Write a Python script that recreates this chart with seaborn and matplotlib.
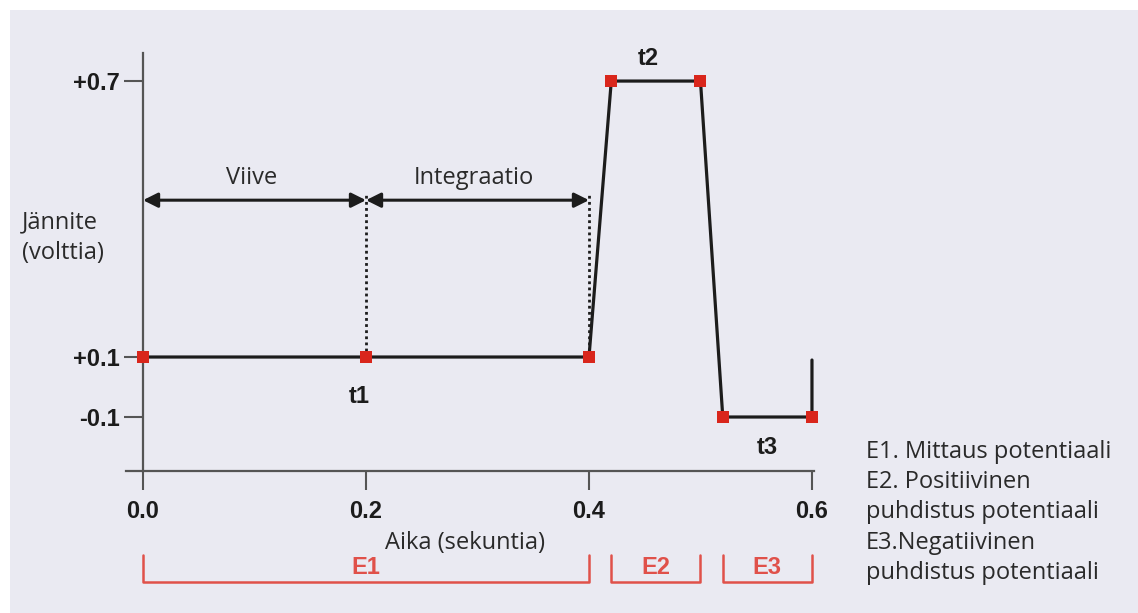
import numpy as np
import seaborn as sns
import matplotlib.pyplot as plt
from matplotlib.patches import Rectangle
from matplotlib.ticker import NullLocator

# Pulse waveform (time in s, potential in V)
time = [0.0, 0.2, 0.4, 0.42, 0.5, 0.52, 0.6]
voltage = [0.1, 0.1, 0.1, 0.7, 0.7, -0.1, -0.1]
tail_time = [0.6, 0.6]
tail_voltage = [-0.1, 0.09]

x_ticks = [0.0, 0.2, 0.4, 0.6]
x_tick_labels = ["0.0", "0.2", "0.4", "0.6"]
y_ticks = [-0.1, 0.1, 0.7]
y_tick_labels = ["-0.1", "+0.1", "+0.7"]

# potential regions under the x axis
region_names = ["E1", "E2", "E3"]
region_start = [0.0, 0.42, 0.52]
region_end = [0.4, 0.5, 0.6]

phase_names = ["Viive", "Integraatio"]
phase_start = [0.0, 0.2]
phase_end = [0.2, 0.4]

legend_lines = ["E1. Mittaus potentiaali", "E2. Positiivinen",
                "puhdistus potentiaali", "E3.Negatiivinen",
                "puhdistus potentiaali"]

sns.set_style("white")
plt.rcParams["font.family"] = ["Liberation Sans", "DejaVu Sans"]

W, H = 1138, 613
BG = "#EAEAF2"
INK = "#1c1c1c"
RED = "#d9261c"
LIGHT_RED = "#e0514a"
AXIS = "#555555"
TEXT_FONT = ["Open Sans", "DejaVu Sans"]
TEXT_COLOR = "#2a2a2a"
TEXT_SIZE = 17

# the original y axis is not to scale: below +0.1 it is compressed
k = 300 / 460


def forward(y):
    y = np.asarray(y, dtype=float)
    return np.where(y >= 0.1, y, 0.1 + (y - 0.1) * k)


def inverse(f):
    f = np.asarray(f, dtype=float)
    return np.where(f >= 0.1, f, 0.1 + (f - 0.1) / k)


fig = plt.figure(figsize=(W / 100, H / 100), dpi=100)
fig.patches.append(Rectangle((10 / W, 0), 1, 603 / H, transform=fig.transFigure,
                             facecolor=BG, edgecolor="none", zorder=-10))

ax = fig.add_axes([126.3 / W, (H - 471) / H, (814.2 - 126.3) / W, 418 / H])
ax.set_facecolor("none")
ax.set_yscale("function", functions=(forward, inverse))

sns.lineplot(x=time + tail_time[1:], y=voltage + tail_voltage[1:], sort=False,
             estimator=None, color=INK, linewidth=2.3, ax=ax, zorder=3)
sns.scatterplot(x=time, y=voltage, marker="s", s=80, color=RED, linewidth=0,
                ax=ax, zorder=5, clip_on=False)

ax.set_xlim(-0.015, 0.602)
ax.set_ylim(-0.28, 0.761)

# delay / integration arrows with dotted markers
arrow_y = 0.441
for start, end, name in zip(phase_start, phase_end, phase_names):
    ax.annotate("", xy=(start, arrow_y), xytext=(end, arrow_y),
                arrowprops=dict(arrowstyle="<|-|>", color=INK, lw=2.2,
                                mutation_scale=22, shrinkA=0, shrinkB=0))
    ax.text((start + end) / 2 - 0.003, 0.489, name, ha="center", va="center",
            fontsize=TEXT_SIZE, color=TEXT_COLOR, family=TEXT_FONT)
for x in phase_end:
    ax.plot([x, x], [0.1, 0.459], linestyle=(0, (1, 1.2)), color=INK, lw=2.0, zorder=2)

ax.text(0.194, -0.03, "t1", ha="center", va="center", fontsize=17,
        fontweight="bold", color=INK)
ax.text(0.453, 0.75, "t2", ha="center", va="center", fontsize=17,
        fontweight="bold", color=INK, clip_on=False)
ax.text(0.56, -0.2, "t3", ha="center", va="center", fontsize=17,
        fontweight="bold", color=INK)

# axes styling
for side in ["top", "right"]:
    ax.spines[side].set_visible(False)
ax.spines["left"].set_position(("data", 0))
for side in ["left", "bottom"]:
    ax.spines[side].set_color(AXIS)
    ax.spines[side].set_linewidth(1.6)

ax.set_xticks(x_ticks, x_tick_labels)
ax.set_yticks(y_ticks, y_tick_labels)
ax.yaxis.set_minor_locator(NullLocator())
ax.tick_params(axis="x", direction="out", length=14, width=1.5, color=AXIS,
               pad=7, labelsize=17, labelcolor=INK, bottom=True)
ax.tick_params(axis="y", direction="out", length=14, width=1.5, color=AXIS,
               pad=3, labelsize=17, labelcolor=INK, left=True)
for lab in ax.get_xticklabels() + ax.get_yticklabels():
    lab.set_fontweight("bold")
ax.grid(False)

# region brackets below the axis
tr = ax.get_xaxis_transform()
for name, start, end in zip(region_names, region_start, region_end):
    ax.plot([start, start, end, end], [-0.201, -0.266, -0.266, -0.201],
            color=LIGHT_RED, lw=1.8, transform=tr, clip_on=False)
    ax.text((start + end) / 2, -0.232, name, ha="center", va="center",
            fontsize=17, fontweight="bold", color=LIGHT_RED, transform=tr)

fig.text(22 / W, 1 - 222 / H, "Jännite", ha="left", va="center",
         fontsize=TEXT_SIZE, color=TEXT_COLOR, family=TEXT_FONT)
fig.text(22 / W, 1 - 253 / H, "(volttia)", ha="left", va="center",
         fontsize=TEXT_SIZE, color=TEXT_COLOR, family=TEXT_FONT)
fig.text(465 / W, 1 - 543 / H, "Aika (sekuntia)", ha="center", va="center",
         fontsize=TEXT_SIZE, color=TEXT_COLOR, family=TEXT_FONT)

for i, line in enumerate(legend_lines):
    fig.text(866 / W, 1 - (452 + i * 30.2) / H, line, ha="left", va="center",
             fontsize=TEXT_SIZE, color=TEXT_COLOR, family=TEXT_FONT)

fig.savefig("out.png", dpi=100, facecolor="white")
